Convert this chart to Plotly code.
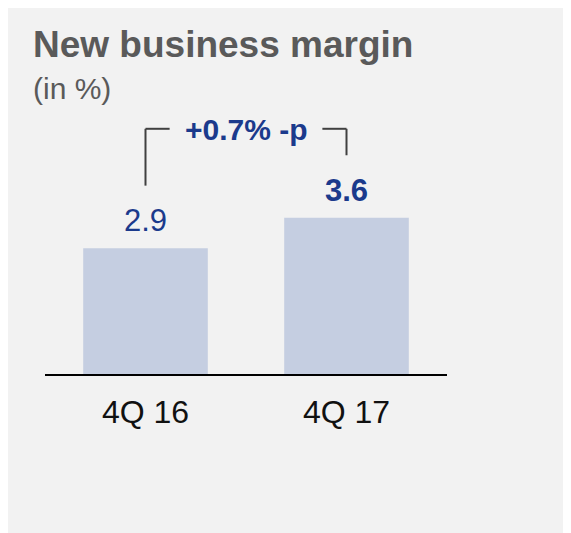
import plotly.graph_objects as go

categories = ["4Q 16", "4Q 17"]
values = [2.9, 3.6]
value_labels = ["2.9", "<b>3.6</b>"]
delta_label = "<b>+0.7% -p</b>"
title_text = "<b>New business margin</b>"
subtitle_text = "(in %)"

W, H = 571, 533
L, R, T, B = 37, W - 439, 92, H - 366
px_per_unit = 43.4
y_top = (H - T - B) / px_per_unit

FONT = "Liberation Sans, Arial, sans-serif"
BAR = "#c5cee1"
BLUE = "#1b3a8c"
GRAY = "#5a5a5a"
LINE = "#404040"

def px_x(p):
    return (p - L) / (W - L - R)

def px_y(p):
    return (H - B - p) / (H - T - B)

fig = go.Figure()
fig.add_trace(go.Bar(x=categories, y=values, width=0.62, marker=dict(color=BAR, line=dict(width=0)),
                     hoverinfo="skip"))

gap = 1.44
top = max(values) + 2.05
arm = 0.12
lw = 2
shapes = [
    dict(type="line", xref="x", yref="y", x0=0, x1=0, y0=values[0] + gap, y1=top, line=dict(color=LINE, width=lw)),
    dict(type="line", xref="x", yref="y", x0=0, x1=arm, y0=top, y1=top, line=dict(color=LINE, width=lw)),
    dict(type="line", xref="x", yref="y", x0=1, x1=1, y0=values[1] + gap, y1=top, line=dict(color=LINE, width=lw)),
    dict(type="line", xref="x", yref="y", x0=1 - arm, x1=1, y0=top, y1=top, line=dict(color=LINE, width=lw)),
]

annotations = []
for c, v, t in zip(categories, values, value_labels):
    annotations.append(dict(x=c, y=v, xref="x", yref="y", text=t, showarrow=False, yanchor="bottom", yshift=8,
                            font=dict(family=FONT, size=31, color=BLUE)))
annotations.append(dict(x=0.5, y=top, xref="x", yref="y", text=delta_label, showarrow=False, yanchor="middle",
                        yshift=-1, font=dict(family=FONT, size=30, color=BLUE)))
annotations.append(dict(x=px_x(23), y=px_y(37), xref="paper", yref="paper", text=title_text, showarrow=False,
                        xanchor="left", yanchor="middle", font=dict(family=FONT, size=37, color=GRAY)))
annotations.append(dict(x=px_x(23), y=px_y(80), xref="paper", yref="paper", text=subtitle_text, showarrow=False,
                        xanchor="left", yanchor="middle", font=dict(family=FONT, size=30, color=GRAY)))

fig.update_layout(
    width=W, height=H,
    margin=dict(l=L, r=R, t=T, b=B, pad=0),
    paper_bgcolor="#f2f2f2", plot_bgcolor="rgba(0,0,0,0)",
    showlegend=False,
    shapes=shapes, annotations=annotations,
    xaxis=dict(type="category", range=[-0.5, 1.5], showgrid=False, zeroline=False,
               showline=True, linecolor="black", linewidth=2,
               ticks="", ticklabelstandoff=9,
               tickfont=dict(family=FONT, size=32, color="#111111")),
    yaxis=dict(range=[0, y_top], visible=False, fixedrange=True),
)

fig.write_html("out.html")
